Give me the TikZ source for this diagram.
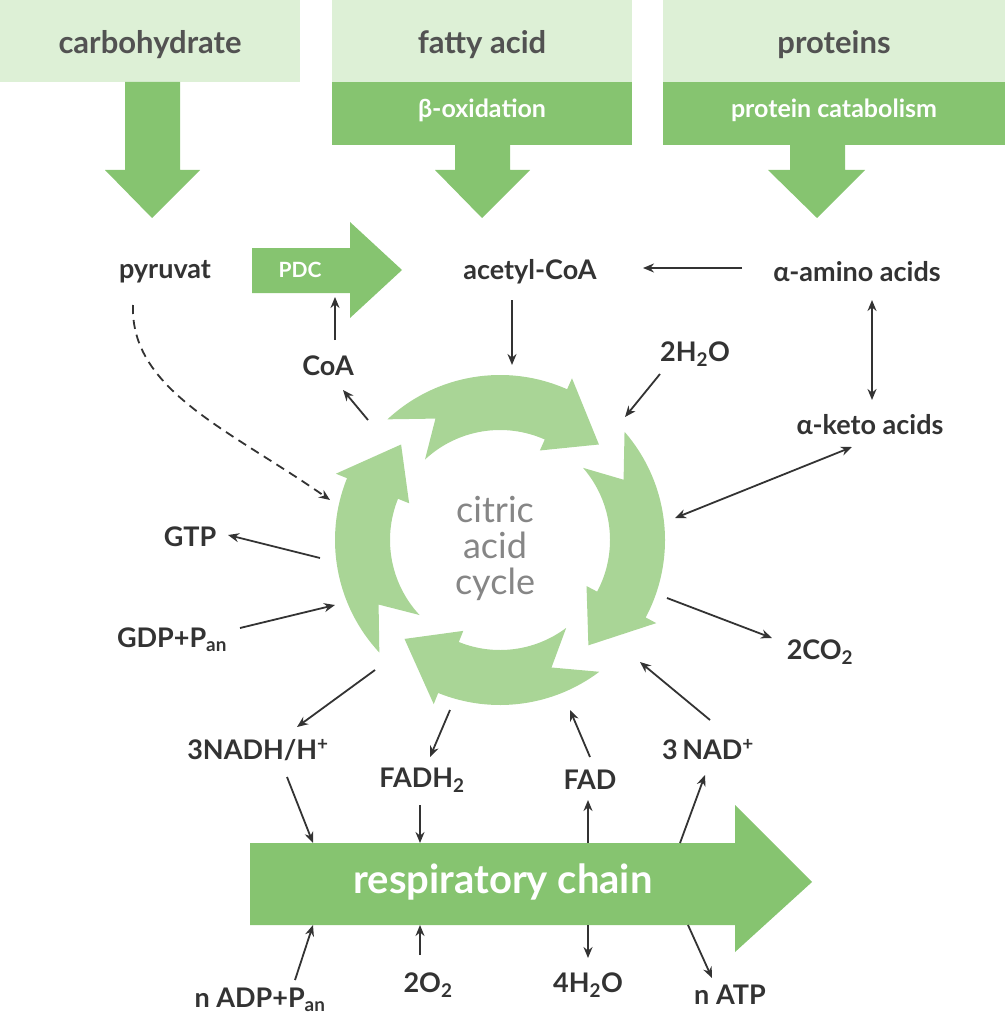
\documentclass[tikz,border=0pt]{standalone}
\usepackage{fontspec}
\setmainfont{Lato}
\usetikzlibrary{arrows.meta}
\definecolor{lg}{HTML}{DDF0D6}
\definecolor{dg}{HTML}{86C470}
\definecolor{cg}{HTML}{A9D596}
\definecolor{tx}{HTML}{333333}
\tikzset{
 lbl/.style={font=\bfseries\fontsize{27}{30}\selectfont,text=tx,inner sep=0pt},
 ttl/.style={font=\bfseries\fontsize{31}{34}\selectfont,text=tx!85,inner sep=0pt},
 wt/.style={font=\bfseries\fontsize{25}{28}\selectfont,text=white,inner sep=0pt},
 ar/.style={-{Stealth[length=11pt,width=9pt]},line width=1.8pt,draw=tx},
 dar/.style={{Stealth[length=11pt,width=9pt]}-{Stealth[length=11pt,width=9pt]},line width=1.8pt,draw=tx},
}
\begin{document}
\begin{tikzpicture}[x=1pt,y=-1pt]
\useasboundingbox (0,0) rectangle (1005,1024);
% top boxes
\fill[lg] (0,0) rectangle (300,82);
\fill[lg] (332,0) rectangle (632,82);
\fill[dg] (332,82) rectangle (632,145);
\fill[lg] (663,0) rectangle (1005,82);
\fill[dg] (663,82) rectangle (1005,145);
\node[ttl] (carb) at (150,45) {carbohydrate};
\node[ttl] (fat) at (482,45) {fatty acid};
\node[ttl] (prot) at (834,45) {proteins};
\node[wt] (box) at (482,110) {β-oxidation};
\node[wt] (pc) at (834,110) {protein catabolism};
% big down arrows
\fill[dg] (125,82) -- (180,82) -- (180,170) -- (200,170) -- (152,218) -- (105,170) -- (125,170) -- cycle;
\fill[dg] (455,145) -- (510,145) -- (510,170) -- (530,170) -- (482,218) -- (435,170) -- (455,170) -- cycle;
\fill[dg] (790,145) -- (845,145) -- (845,170) -- (865,170) -- (817,218) -- (768,170) -- (790,170) -- cycle;
% PDC arrow
\fill[dg] (252,248) -- (350,248) -- (350,222) -- (402,270) -- (350,318) -- (350,293) -- (252,293) -- cycle;
\node[wt,font=\bfseries\fontsize{21}{24}\selectfont] (pdc) at (300,270) {PDC};
% respiratory chain
\fill[dg] (250,843) -- (735,843) -- (735,805) -- (812,882) -- (735,952) -- (735,925) -- (250,925) -- cycle;
\node[wt,font=\bfseries\fontsize{40}{44}\selectfont] (rc) at (503,882) {respiratory chain};
% cycle
\begin{scope}[shift={(500,540)}]
\def\ro{165}\def\ri{110}\def\rm{137.5}
\foreach \a/\b in {-136/-44, -44/50, 50/134, 134/224}{
 \pgfmathsetmacro\h{\b-22}
 \fill[cg] (\a+3:\ro) arc[start angle=\a+3,end angle=\h,radius=\ro] -- (\h:\ro+12) -- (\b:\rm) -- (\h:\ri-12) -- (\h:\ri) arc[start angle=\h,end angle=\a+3,radius=\ri] -- (\a+18:\rm) -- cycle;
}
\end{scope}
\node[font=\fontsize{36}{40}\selectfont,text=gray!95,align=center] (cac) at (495,548) {citric\\[-4pt]acid\\[-4pt]cycle};
% labels
\node[lbl] (pyr) at (165,272) {pyruvat};
\node[lbl] (acoa) at (530,272) {acetyl-CoA};
\node[lbl] (aa) at (857,272) {α-amino acids};
\node[lbl] (coa) at (328,366) {CoA};
\node[lbl] (h2o) at (695,354) {2H\textsubscript{2}O};
\node[lbl] (ka) at (870,425) {α-keto acids};
\node[lbl] (gtp) at (190,537) {GTP};
\node[lbl] (gdp) at (172,640) {GDP+P\textsubscript{an}};
\node[lbl] (co2) at (820,652) {2CO\textsubscript{2}};
\node[lbl] (nadh) at (258,750) {3NADH/H\textsuperscript{+}};
\node[lbl] (fadh) at (422,780) {FADH\textsubscript{2}};
\node[lbl] (fad) at (590,780) {FAD};
\node[lbl] (nad) at (708,750) {3\,NAD\textsuperscript{+}};
\node[lbl] (adp) at (260,1000) {n ADP+P\textsubscript{an}};
\node[lbl] (o2) at (428,985) {2O\textsubscript{2}};
\node[lbl] (h2ob) at (588,985) {4H\textsubscript{2}O};
\node[lbl] (atp) at (730,995) {n ATP};
% coordinates on the cycle
\coordinate (c1) at (368,420);
\coordinate (c2) at (625,417);
\coordinate (c3) at (675,518);
\coordinate (c4) at (320,558);
\coordinate (c5) at (335,605);
\coordinate (c6) at (667,598);
\coordinate (c7) at (375,670);
\coordinate (c8) at (450,710);
\coordinate (c9) at (570,710);
\coordinate (c10) at (640,662);
\coordinate (c11) at (330,500);
\coordinate (top) at (512,365);
% arrows
\draw[ar] (742,268) -- (643,268);
\draw[ar] (335,340) -- (335,297);
\draw[ar] (c1) -- (343,390);
\draw[ar] (512,300) -- (top);
\draw[ar] (660,374) -- (c2);
\draw[dar] (872,300) -- (872,400);
\draw[dar] (852,447) -- (c3);
\draw[ar,dashed,dash pattern=on 9pt off 6pt] (133,305) .. controls (130,390) and (230,430) .. (c11);
\draw[ar] (c4) -- (228,535);
\draw[ar] (240,628) -- (c5);
\draw[ar] (c6) -- (772,638);
\draw[ar] (c7) -- (297,727);
\draw[ar] (c8) -- (430,757);
\draw[ar] (590,757) -- (c9);
\draw[ar] (710,720) -- (c10);
\draw[ar] (287,777) -- (313,843);
\draw[ar] (420,805) -- (420,843);
\draw[ar] (588,843) -- (588,800);
\draw[ar] (680,843) -- (705,775);
\draw[ar] (295,980) -- (313,925);
\draw[ar] (420,955) -- (420,925);
\draw[ar] (588,925) -- (588,958);
\draw[ar] (688,925) -- (712,978);
\end{tikzpicture}
\end{document}
